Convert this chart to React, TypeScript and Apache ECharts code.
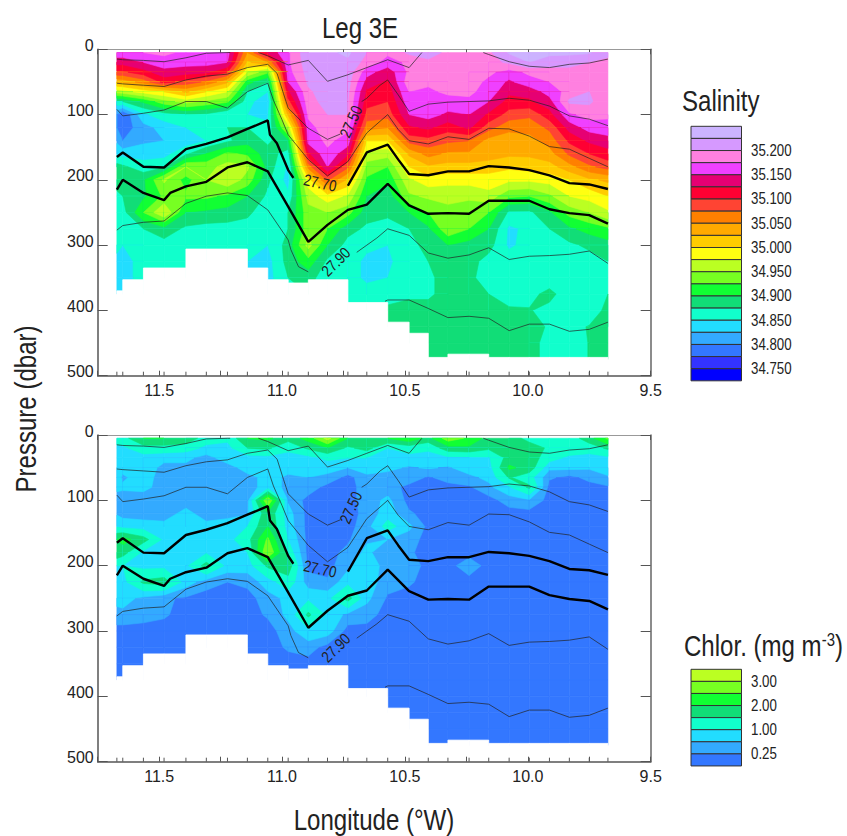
import React, { useEffect, useRef } from "react";
import * as echarts from "echarts";

const FONT = '"Liberation Sans Narrow", "Liberation Sans", Arial, sans-serif';
const WIDE = '"Liberation Sans", Arial, sans-serif';

const stations = [11.672, 11.648, 11.564, 11.48, 11.391, 11.308, 11.222, 11.141, 11.058, 10.975, 10.893, 10.815, 10.732, 10.655, 10.57, 10.483, 10.405, 10.325, 10.239, 10.159, 10.076, 9.994, 9.912, 9.831, 9.75, 9.674];
const depths = [5, 20, 35, 50, 65, 80, 100, 120, 140, 160, 180, 200, 225, 250, 275, 300, 325, 350, 375, 400, 425, 450, 475];
// sea-floor / data limit between neighbouring stations (dbar)
const bottoms = [370, 353, 335, 335, 306, 306, 306, 335, 353, 358, 353, 353, 388, 388, 418, 435, 472, 467, 467, 472, 472, 472, 472, 472, 472];

const salinityLevels = [34.75, 34.775, 34.8, 34.825, 34.85, 34.875, 34.9, 34.925, 34.95, 34.975, 35.0, 35.025, 35.05, 35.075, 35.1, 35.125, 35.15, 35.175, 35.2, 35.225];
const salinityColors = ["#0000ff", "#3333ff", "#3377ff", "#33aaff", "#22ddff", "#11ffcc", "#11dd77", "#11ff33", "#77ff22", "#bbff22", "#ffff11", "#ffcc00", "#ffaa00", "#ff8000", "#ff4433", "#ff0033", "#e60073", "#f040ff", "#ff80e0", "#d699ff", "#ccb3ff"];
const salinityTicks = ["35.200", "35.150", "35.100", "35.050", "35.000", "34.950", "34.900", "34.850", "34.800", "34.750"];

const chlorLevels = [0.25, 0.6, 1.0, 1.5, 2.0, 2.5, 3.0];
const chlorColors = ["#3377ff", "#33aaff", "#22ddff", "#11ffcc", "#11dd77", "#11ff33", "#77ff22", "#bbff22"];
const chlorTicks = ["3.00", "2.00", "1.00", "0.25"];

// one profile per station, top to bottom; a short profile keeps its last value below the sea floor
const salinity = [
  [35.165, 35.135, 35.095, 35.03, 34.96, 34.87, 34.8, 34.8, 34.82, 34.845, 34.885, 34.885, 34.87, 34.86, 34.86, 34.855, 34.845, 34.84, 34.84],
  [35.165, 35.135, 35.095, 35.035, 34.965, 34.875, 34.775, 34.785, 34.8, 34.84, 34.88, 34.89, 34.875, 34.865, 34.86, 34.85, 34.845, 34.845, 34.84],
  [35.175, 35.15, 35.115, 35.06, 34.985, 34.905, 34.845, 34.815, 34.82, 34.84, 34.86, 34.895, 34.895, 34.925, 34.875, 34.86, 34.855, 34.855],
  [35.18, 35.165, 35.14, 35.11, 35.0, 34.94, 34.865, 34.835, 34.825, 34.84, 34.87, 34.955, 34.93, 34.975, 34.89, 34.865, 34.86, 34.86],
  [35.17, 35.16, 35.135, 35.09, 35.03, 34.96, 34.875, 34.85, 34.835, 34.87, 34.95, 34.915, 34.93, 34.9, 34.87, 34.86, 34.86],
  [35.175, 35.16, 35.13, 35.07, 35.0, 34.945, 34.87, 34.85, 34.85, 34.9, 34.94, 34.95, 34.93, 34.895, 34.865, 34.86, 34.86],
  [35.16, 35.15, 35.1, 35.03, 34.975, 34.93, 34.85, 34.875, 34.87, 34.93, 34.96, 34.97, 34.92, 34.89, 34.865, 34.86, 34.86],
  [35.05, 35.02, 34.975, 34.91, 34.875, 34.86, 34.85, 34.875, 34.89, 34.92, 34.955, 34.94, 34.9, 34.88, 34.865, 34.855, 34.85],
  [35.13, 35.05, 34.93, 34.875, 34.85, 34.83, 34.845, 34.855, 34.87, 34.885, 34.89, 34.88, 34.87, 34.86, 34.855, 34.85, 34.84, 34.84],
  [35.17, 35.17, 35.165, 35.15, 35.12, 35.09, 35.03, 34.96, 34.895, 34.865, 34.845, 34.84, 34.855, 34.875, 34.875, 34.885, 34.885, 34.875, 34.87],
  [35.22, 35.215, 35.21, 35.205, 35.195, 35.19, 35.18, 35.165, 35.16, 35.12, 35.06, 34.99, 34.96, 34.94, 34.94, 34.96, 34.915, 34.885, 34.875],
  [35.22, 35.22, 35.22, 35.22, 35.215, 35.21, 35.2, 35.19, 35.18, 35.17, 35.15, 35.08, 34.99, 34.95, 34.925, 34.9, 34.87, 34.86, 34.86],
  [35.23, 35.22, 35.215, 35.21, 35.205, 35.2, 35.2, 35.18, 35.165, 35.13, 35.08, 35.02, 34.97, 34.935, 34.885, 34.865, 34.86, 34.86, 34.86, 34.86],
  [35.2, 35.19, 35.16, 35.14, 35.12, 35.11, 35.09, 35.06, 35.0, 34.965, 34.94, 34.92, 34.9, 34.885, 34.87, 34.855, 34.845, 34.845, 34.86, 34.865],
  [35.18, 35.165, 35.135, 35.12, 35.11, 35.1, 35.085, 35.05, 35.0, 34.96, 34.925, 34.905, 34.885, 34.88, 34.865, 34.85, 34.845, 34.85, 34.865, 34.88, 34.885],
  [35.205, 35.18, 35.18, 35.19, 35.175, 35.165, 35.15, 35.12, 35.085, 35.03, 35.0, 34.97, 34.945, 34.9, 34.875, 34.87, 34.865, 34.865, 34.87, 34.885, 34.885, 34.885],
  [35.21, 35.195, 35.185, 35.18, 35.17, 35.165, 35.16, 35.13, 35.09, 35.06, 35.02, 34.99, 34.955, 34.925, 34.895, 34.88, 34.875, 34.87, 34.87, 34.885, 34.885, 34.885, 34.885],
  [35.195, 35.195, 35.19, 35.185, 35.18, 35.165, 35.145, 35.11, 35.08, 35.045, 35.015, 34.985, 34.955, 34.945, 34.945, 34.9, 34.885, 34.885, 34.885, 34.885, 34.885, 34.885, 34.885],
  [35.195, 35.195, 35.19, 35.185, 35.18, 35.17, 35.15, 35.13, 35.075, 35.045, 35.015, 34.985, 34.955, 34.935, 34.925, 34.89, 34.885, 34.88, 34.875, 34.885, 34.885, 34.885, 34.885],
  [35.195, 35.19, 35.18, 35.17, 35.165, 35.15, 35.12, 35.085, 35.04, 35.04, 35.01, 34.99, 34.965, 34.925, 34.9, 34.885, 34.865, 34.865, 34.875, 34.885, 34.885, 34.885, 34.885],
  [35.228, 35.205, 35.165, 35.145, 35.13, 35.115, 35.09, 35.055, 35.04, 35.03, 35.005, 34.98, 34.93, 34.87, 34.845, 34.845, 34.865, 34.865, 34.865, 34.878, 34.885, 34.885, 34.885],
  [35.235, 35.225, 35.18, 35.165, 35.135, 35.12, 35.08, 35.06, 35.04, 35.03, 35.01, 34.98, 34.925, 34.87, 34.856, 34.86, 34.865, 34.865, 34.87, 34.876, 34.885, 34.885, 34.885],
  [35.232, 35.21, 35.19, 35.175, 35.16, 35.14, 35.115, 35.08, 35.06, 35.04, 35.015, 34.985, 34.945, 34.895, 34.875, 34.865, 34.865, 34.865, 34.88, 34.87, 34.872, 34.865, 34.865],
  [35.232, 35.205, 35.195, 35.19, 35.185, 35.205, 35.17, 35.135, 35.105, 35.08, 35.04, 35.0, 34.975, 34.935, 34.895, 34.87, 34.865, 34.865, 34.865, 34.87, 34.87, 34.862, 34.862],
  [35.228, 35.2, 35.195, 35.19, 35.2, 35.205, 35.185, 35.16, 35.13, 35.1, 35.07, 35.02, 34.985, 34.95, 34.91, 34.88, 34.865, 34.865, 34.865, 34.865, 34.876, 34.876, 34.876],
  [35.205, 35.195, 35.19, 35.19, 35.185, 35.18, 35.18, 35.165, 35.14, 35.115, 35.085, 35.03, 35.0, 34.97, 34.92, 34.89, 34.875, 34.865, 34.875, 34.88, 34.88, 34.885, 34.885],
];

const chlorophyll = [
  [1.2, 0.9, 0.8, 0.75, 0.75, 0.65, 0.5, 0.55, 0.95, 2.0, 1.9, 1.0, 0.8, 0.7, 0.5, 0.1],
  [1.3, 0.9, 0.8, 0.7, 0.55, 0.65, 0.45, 0.45, 0.85, 2.2, 1.7, 1.0, 0.85, 0.75, 0.5, 0.1],
  [2.0, 1.3, 0.8, 0.8, 0.75, 0.7, 0.4, 0.4, 0.8, 1.7, 0.9, 0.85, 1.6, 0.5, 0.4, 0.1],
  [2.0, 1.3, 0.7, 0.5, 0.45, 0.45, 0.45, 0.45, 0.7, 0.9, 0.85, 0.85, 1.75, 0.3, 0.3, 0.1],
  [1.9, 1.2, 0.7, 0.5, 0.35, 0.4, 0.45, 0.7, 0.8, 0.9, 0.9, 0.9, 0.8, 0.2, 0.1],
  [1.2, 0.9, 0.45, 0.4, 0.4, 0.45, 0.45, 0.45, 0.7, 0.9, 0.95, 1.7, 0.4, 0.1],
  [1.1, 0.85, 0.8, 0.45, 0.4, 0.4, 0.5, 0.5, 0.75, 0.85, 0.9, 0.85, 0.25, 0.1],
  [2.0, 1.5, 0.8, 0.75, 0.5, 0.4, 0.45, 0.55, 1.0, 1.3, 1.0, 0.8, 0.35, 0.1],
  [2.1, 1.6, 0.85, 0.8, 0.7, 0.8, 3.0, 1.9, 2.0, 2.6, 3.0, 1.6, 0.8, 0.45, 0.3, 0.1],
  [1.7, 1.1, 0.85, 0.7, 0.55, 0.5, 0.55, 0.75, 0.8, 1.0, 1.3, 1.8, 1.3, 0.7, 0.7, 0.45, 0.3, 0.1],
  [2.2, 1.6, 0.85, 0.8, 0.6, 0.45, 0.12, 0.12, 0.12, 0.12, 0.12, 0.15, 0.4, 0.9, 1.6, 0.9, 0.4, 0.12],
  [3.2, 2.0, 1.1, 0.75, 0.5, 0.12, 0.12, 0.12, 0.12, 0.12, 0.12, 0.12, 0.3, 0.85, 0.9, 0.8, 0.12],
  [2.0, 1.4, 1.0, 0.6, 0.12, 0.12, 0.12, 0.12, 0.12, 0.2, 0.35, 0.5, 0.85, 1.7, 0.5, 0.1],
  [1.8, 1.7, 1.0, 0.8, 0.5, 0.4, 0.4, 0.35, 0.45, 0.55, 0.7, 0.9, 0.8, 0.7, 0.4, 0.12],
  [2.0, 1.0, 0.8, 0.7, 0.45, 0.4, 0.7, 0.8, 1.2, 0.6, 0.3, 0.4, 0.4, 0.2, 0.1],
  [2.4, 1.2, 0.85, 0.55, 0.45, 0.15, 0.12, 0.3, 0.7, 0.4, 0.3, 0.45, 0.3, 0.12],
  [1.8, 1.1, 0.8, 0.65, 0.2, 0.12, 0.12, 0.12, 0.15, 0.12],
  [2.8, 1.8, 0.9, 0.55, 0.4, 0.12],
  [2.4, 1.9, 0.9, 0.8, 0.5, 0.2, 0.12, 0.12, 0.12, 0.12, 0.12, 0.45, 0.12],
  [1.8, 1.6, 0.95, 0.8, 0.7, 0.5, 0.12],
  [1.8, 1.9, 1.7, 2.1, 1.55, 0.95, 0.4, 0.12],
  [1.3, 1.8, 1.8, 1.8, 1.2, 1.6, 0.55, 0.12],
  [1.2, 1.4, 1.2, 0.7, 0.3, 0.12],
  [1.2, 1.3, 0.9, 0.7, 0.15, 0.12],
  [1.8, 1.2, 0.85, 0.65, 0.35, 0.12],
  [2.6, 1.6, 0.9, 0.8, 0.55, 0.2, 0.12],
];

const at = (first: number, values: number[]) => values.map((d, k) => [stations[first + k], d]);

// density contours as [longitude, pressure]
const isoSurfaceA = at(0, [15, 16, 17, 19, 13, 6, 5]).concat([[11.211, 5]]);
const isoSurfaceB = [[11.096, 5], ...at(8, [10, 24, 17, 49, 39, 28, 16, 28]), [10.431, 5]];
const isoSurfaceC = [[10.181, 5], ...at(19, [8, 19, 26, 28, 23, 21, 15])];
const iso2750A = [...at(0, [52, 53, 55, 57, 47, 41, 38, 28, 23]), [11.02, 37], [10.994, 68], ...at(9, [90, 121, 138]), [10.764, 130]];
const iso2750B = [[10.676, 80], ...at(13, [75]), [10.601, 55], ...at(14, [47]), [10.527, 70], ...at(15, [95, 84, 81, 80, 79, 75, 78, 87, 102, 107, 117])];
const iso2760 = [...at(0, [92, 102, 98, 93, 80, 80, 90, 65, 52]), [11.035, 78], [11.0, 108], ...at(9, [131, 169, 194, 172, 128, 100]), [10.527, 123], ...at(15, [140, 145, 134, 138, 121, 122, 133, 149, 153, 167, 180])];
const iso2770A = [...at(0, [165, 158, 180, 181, 153, 145, 135, 122, 109]), [11.049, 131], [11.021, 144], ...at(9, [185]), [10.954, 197]];
const iso2770B = [...at(12, [209, 158, 146]), [10.527, 169], ...at(15, [191, 193, 187, 187, 179, 181, 185, 193, 205, 207, 214])];
const iso2780 = [...at(0, [215, 200, 220, 231]), [11.455, 220], ...at(4, [210, 203, 181, 173, 187, 241, 295, 269, 246, 238, 206, 239, 252, 251, 252, 232, 232, 232, 245, 251, 254, 267])];
const iso2790A = [...at(0, [277, 270, 265, 263, 236, 225, 220, 224, 246, 292]), [10.964, 307], [10.933, 333], ...at(10, [341])];
const iso2790B = [[10.696, 311], ...at(13, [300]), [10.614, 289], ...at(14, [275, 285, 312, 320, 315, 304, 322, 317, 316, 314, 309, 328])];
const isoDeep = [[10.581, 386], ...at(14, [384, 384, 397, 411, 409, 412, 431, 421, 421, 432, 429, 418])];

const thinLines = [isoSurfaceA, isoSurfaceB, isoSurfaceC, iso2750A, iso2750B, iso2760, iso2790A, iso2790B, isoDeep];
const thickLines = [iso2770A, iso2770B, iso2780];

const valueAt = (field: number[][], i: number, j: number) => {
  const col = field[i];
  return j < col.length ? col[j] : col[col.length - 1];
};

type P = { x: number; y: number; v: number };
const clipAbove = (poly: P[], level: number) => {
  const out: P[] = [];
  for (let k = 0; k < poly.length; k++) {
    const a = poly[k];
    const b = poly[(k + 1) % poly.length];
    const aIn = a.v >= level;
    const bIn = b.v >= level;
    if (aIn) out.push(a);
    if (aIn !== bIn) {
      const t = (level - a.v) / (b.v - a.v);
      out.push({ x: a.x + (b.x - a.x) * t, y: a.y + (b.y - a.y) * t, v: level });
    }
  }
  return out;
};

const contourSeries = (field: number[][], levels: number[], colors: string[], idx: number) => {
  const cells: number[][] = [];
  for (let i = 0; i < stations.length - 1; i++) {
    for (let j = 0; j < depths.length - 1; j++) {
      if (depths[j] < bottoms[i]) cells.push([i, j]);
    }
  }
  return {
    type: "custom",
    xAxisIndex: idx * 2,
    yAxisIndex: idx * 2,
    silent: true,
    z: 2,
    encode: { x: -1, y: -1 },
    data: cells,
    renderItem: (params: any, api: any) => {
      const i = cells[params.dataIndex][0];
      const j = cells[params.dataIndex][1];
      const corner = (a: number, b: number): P => {
        const c = api.coord([stations[a], depths[b]]);
        return { x: c[0], y: c[1], v: valueAt(field, a, b) };
      };
      const poly = [corner(i, j), corner(i + 1, j), corner(i + 1, j + 1), corner(i, j + 1)];
      const vals = poly.map((p) => p.v);
      const lo = Math.min(...vals);
      const hi = Math.max(...vals);
      const band = (v: number) => levels.filter((l) => l <= v).length;
      const children: any[] = [];
      const add = (pts: P[], color: string) =>
        children.push({
          type: "polygon",
          shape: { points: pts.map((p) => [p.x, p.y]) },
          style: { fill: color, stroke: color, lineWidth: 0.6 },
        });
      add(poly, colors[band(lo)]);
      levels.forEach((l, k) => {
        if (l > lo && l <= hi) {
          const pts = clipAbove(poly, l);
          if (pts.length > 2) add(pts, colors[k + 1]);
        }
      });
      return { type: "group", children };
    },
  };
};

const maskSeries = (idx: number) => ({
  type: "custom",
  xAxisIndex: idx * 2,
  yAxisIndex: idx * 2,
  silent: true,
  z: 3,
  encode: { x: -1, y: -1 },
  data: bottoms.map((b, i) => [i, b]),
  renderItem: (params: any, api: any) => {
    const i = params.dataIndex;
    const a = api.coord([stations[i], bottoms[i]]);
    const b = api.coord([stations[i + 1], 480]);
    return {
      type: "rect",
      shape: { x: a[0], y: a[1], width: b[0] - a[0], height: b[1] - a[1] },
      style: { fill: "#ffffff", stroke: "#ffffff", lineWidth: 0.8 },
    };
  },
});

const stationTickSeries = (idx: number) => ({
  type: "custom",
  xAxisIndex: idx * 2,
  yAxisIndex: idx * 2,
  silent: true,
  z: 5,
  encode: { x: -1, y: -1 },
  data: stations.map((s) => [s, 500]),
  renderItem: (params: any, api: any) => {
    const a = api.coord([stations[params.dataIndex], 500]);
    return {
      type: "line",
      shape: { x1: a[0], y1: a[1], x2: a[0], y2: a[1] - 4 },
      style: { stroke: "#555555", lineWidth: 1 },
    };
  },
});

const lineSeries = (data: number[][], idx: number, thick: boolean) => ({
  type: "line",
  xAxisIndex: idx * 2,
  yAxisIndex: idx * 2,
  data,
  silent: true,
  symbol: "none",
  z: 4,
  clip: true,
  lineStyle: { color: thick ? "#000000" : "#222222", width: thick ? 2.4 : 0.7 },
});

const xAxes = (gridIndex: number) => {
  const base = {
    gridIndex,
    type: "value",
    inverse: true,
    min: 9.5,
    max: 11.75,
    interval: 0.25,
    splitLine: { show: false },
    axisTick: { inside: true, length: 5, lineStyle: { color: "#555555", width: 1 } },
  };
  return [
    {
      ...base,
      position: "bottom",
      axisLine: { onZero: false, lineStyle: { color: "#555555", width: 1.5 } },
      axisLabel: {
        margin: 7,
        color: "#222222",
        fontFamily: FONT,
        fontSize: 16,
        formatter: (v: number) => (Number.isInteger(v * 2) && v < 11.75 ? v.toFixed(1) : ""),
      },
    },
    {
      ...base,
      position: "top",
      axisLine: { onZero: false, lineStyle: { color: "#999999", width: 1 } },
      axisLabel: { show: false },
    },
  ];
};

const yAxes = (gridIndex: number) => {
  const base = {
    gridIndex,
    type: "value",
    inverse: true,
    min: 0,
    max: 500,
    interval: 100,
    splitLine: { show: false },
    axisTick: { inside: true, length: 10, lineStyle: { color: "#555555", width: 1 } },
  };
  return [
    {
      ...base,
      position: "left",
      axisLine: { onZero: false, lineStyle: { color: "#555555", width: 1.5 } },
      axisLabel: { margin: 4, color: "#222222", fontFamily: FONT, fontSize: 16, verticalAlign: "bottom", lineHeight: 8 },
    },
    {
      ...base,
      position: "right",
      axisLine: { onZero: false, lineStyle: { color: "#666666", width: 1.5 } },
      axisLabel: { show: false },
    },
  ];
};

const label = (text: string, x: number, y: number, fontSize: number, extra: any = {}) => ({
  type: "text",
  x,
  y,
  scaleX: 0.83,
  silent: true,
  z: 10,
  style: { text, fill: "#222222", font: `${fontSize}px ${WIDE}`, textAlign: "left", textVerticalAlign: "middle", ...extra.style },
  ...extra.props,
});

const legend = (colors: string[], ticks: string[], top: number, step: number, firstTick: number) => {
  const out: any[] = [];
  [...colors].reverse().forEach((c, k) => {
    out.push({
      type: "rect",
      silent: true,
      z: 10,
      shape: { x: 691, y: top + k * step, width: 50.5, height: step },
      style: { fill: c, stroke: "#333333", lineWidth: 1 },
    });
  });
  ticks.forEach((t, k) => out.push(label(t, 751, top + (firstTick + k * 2) * step, 16)));
  return out;
};

const rot = (deg: number) => (deg * Math.PI) / 180;
const center = { style: { textAlign: "center" } };

const contourLabels = (dy: number) => [
  label("27.50", 351, 121.7 + dy, 16, { ...center, props: { rotation: rot(66) } }),
  label("27.70", 320, 183 + dy, 16, { ...center, props: { rotation: rot(-12) } }),
  label("27.90", 336, 262 + dy, 16, { ...center, props: { rotation: rot(45) } }),
];

export default function App() {
  const ref = useRef<HTMLDivElement>(null);
  useEffect(() => {
    const chart = echarts.init(ref.current!, undefined, { renderer: "svg" });
    const series: any[] = [];
    [0, 1].forEach((idx) => {
      series.push(
        idx === 0 ? contourSeries(salinity, salinityLevels, salinityColors, 0) : contourSeries(chlorophyll, chlorLevels, chlorColors, 1)
      );
      series.push(maskSeries(idx));
      thinLines.forEach((l) => series.push(lineSeries(l, idx, false)));
      thickLines.forEach((l) => series.push(lineSeries(l, idx, true)));
      series.push(stationTickSeries(idx));
    });
    chart.setOption({
      animation: false,
      backgroundColor: "#ffffff",
      grid: [
        { left: 97.7, top: 49.3, width: 553, height: 326.4 },
        { left: 97.7, top: 435, width: 553, height: 326.7 },
      ],
      xAxis: [...xAxes(0), ...xAxes(1)],
      yAxis: [...yAxes(0), ...yAxes(1)],
      series,
      graphic: [
        label("Leg 3E", 360, 28, 29, center),
        label("Salinity", 682, 101, 29),
        {
          type: "text",
          x: 684,
          y: 646,
          scaleX: 0.83,
          silent: true,
          z: 10,
          style: {
            text: "{a|Chlor. (mg m}{b|-3}{a|)}",
            fill: "#222222",
            textVerticalAlign: "middle",
            rich: {
              a: { fontFamily: WIDE, fontSize: 29, fill: "#222222" },
              b: { fontFamily: WIDE, fontSize: 18, fill: "#222222", verticalAlign: "top" },
            },
          },
        },
        label("Pressure (dbar)", 26, 409, 29, { ...center, props: { rotation: rot(90) } }),
        label("Longitude (°W)", 374, 820, 29, center),
        ...legend(salinityColors, salinityTicks, 126.3, 12.12, 2),
        ...legend(chlorColors, chlorTicks, 669.3, 12.08, 1),
        ...contourLabels(0),
        ...contourLabels(386),
      ],
    });
    return () => chart.dispose();
  }, []);
  return <div ref={ref} style={{ position: "fixed", left: 0, top: 0, width: 847, height: 836 }} />;
}
